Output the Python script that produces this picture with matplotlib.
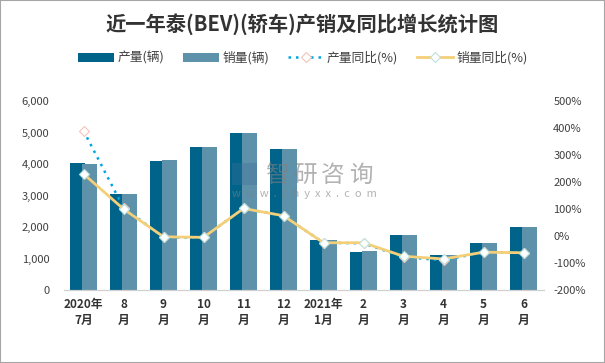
import matplotlib
matplotlib.use("Agg")
import matplotlib.pyplot as plt
from matplotlib.patches import Rectangle
import numpy as np

plt.rcParams['font.family'] = ['Noto Sans CJK SC', 'DejaVu Sans']

months = ["2020年\n7月", "8\n月", "9\n月", "10\n月", "11\n月", "12\n月",
          "2021年\n1月", "2\n月", "3\n月", "4\n月", "5\n月", "6\n月"]
output = [4030, 3050, 4100, 4550, 5000, 4480, 1600, 1200, 1760, 1120, 1500, 2000]
sales = [4010, 3060, 4130, 4550, 5000, 4480, 1590, 1230, 1760, 1110, 1500, 2000]
output_yoy = [390, 105, -5, -5, 102, 75, -25, -27, -78, -90, -60, -62]
sales_yoy = [230, 100, -3, -5, 102, 75, -25, -25, -75, -85, -60, -62]
left_ticks = [0, 1000, 2000, 3000, 4000, 5000, 6000]
right_ticks = [-200, -100, 0, 100, 200, 300, 400, 500]

W, H = 605, 363
fig = plt.figure(figsize=(W / 100, H / 100), dpi=100)
ax = fig.add_axes([63.5 / W, 1 - 290 / H, 480 / W, 189 / H])
ax2 = ax.twinx()

x = np.arange(len(months))
b1 = ax.bar(x - 0.14, output, 0.375, color="#00648a", label="产量(辆)")
b2 = ax.bar(x + 0.14, sales, 0.375, color="#5e92aa", label="销量(辆)")

l1, = ax2.plot(x, output_yoy, color="#00a6e0", lw=1.8, ls=(0, (1, 2)), marker="D", ms=5.5,
               mfc="white", mec="#f4c4b8", mew=0.8, label="产量同比(%)")
l2, = ax2.plot(x, sales_yoy, color="#f5cf78", lw=2, marker="D", ms=5.5,
               mfc="white", mec="#bfe0dc", mew=0.8, label="销量同比(%)")

ax.set_xlim(-0.5, 11.5)
ax.set_ylim(0, 6000)
ax2.set_ylim(-200, 500)
ax.set_yticks(left_ticks)
ax.set_yticklabels([f"{v:,}" for v in left_ticks], fontsize=8, color="#404040")
ax2.set_yticks(right_ticks)
ax2.set_yticklabels([f"{v}%" for v in right_ticks], fontsize=8, color="#404040")
ax.set_xticks(x)
ax.set_xticklabels(months, fontsize=8.5, color="#333333", fontweight="bold", linespacing=1.25)
ax.tick_params(axis="both", length=0)
ax2.tick_params(axis="both", length=0)
ax.tick_params(axis="x", pad=6)
ax.tick_params(axis="y", pad=10)
ax2.tick_params(axis="y", pad=7)
for a in (ax, ax2):
    for s in ("top", "left", "right"):
        a.spines[s].set_visible(False)
    a.spines["bottom"].set_color("#d0d0d0")

fig.text(302 / W, 1 - 24 / H, "近一年泰(BEV)(轿车)产销及同比增长统计图", fontsize=14.6,
         fontweight="bold", color="#333333", ha="center", va="center")

fig.legend(handles=[b1, b2, l1, l2], loc="center", bbox_to_anchor=(303 / W, 1 - 58 / H),
           ncols=4, frameon=False, fontsize=9.2, handlelength=2.8, handleheight=0.78,
           handletextpad=0.25, columnspacing=1.5, labelcolor="#404040")

# watermark
for i, ch in enumerate("智研咨询"):
    fig.text((265 + 28 * i) / W, 1 - 175 / H, ch, fontsize=17, color="#808080", alpha=0.6,
             ha="left", va="center", zorder=10)
fig.text(232 / W, 1 - 194 / H, "w  w  w  .  c  h  y  x  x  .  c  o  m", fontsize=8, color="#808080",
         alpha=0.6, ha="left", va="center", zorder=10)
fig.add_artist(Rectangle((232 / W, 1 - 185 / H), 25 / W, 22 / H, transform=fig.transFigure,
                         color="#3c6e9a", alpha=0.35, lw=0, zorder=10))

# grey frame of the picture
fig.add_artist(Rectangle((0, 0), 1, 1, transform=fig.transFigure, fill=False,
                         ec="#a6a6a6", lw=1.5))

fig.savefig("out.png", dpi=100)
